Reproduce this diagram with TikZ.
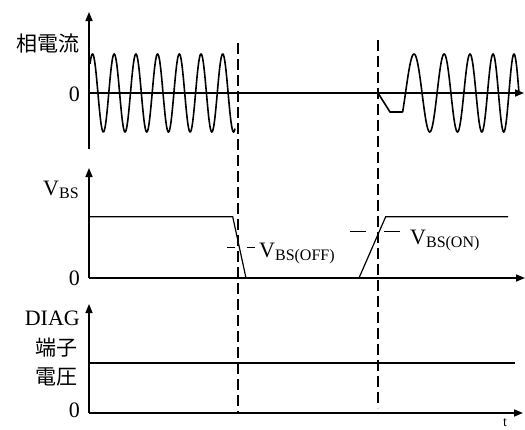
\documentclass[tikz,border=0pt]{standalone}
\usepackage{fontspec}
\setmainfont{Liberation Serif}
\newfontfamily\jpfont{Noto Sans CJK JP}
\usetikzlibrary{arrows.meta}

\newcommand{\vsub}[1]{\raisebox{-3.5pt}{\fontsize{16}{16}\selectfont #1}}

\tikzset{
  axis/.style={line width=1.6pt, -{Triangle[length=9pt,width=7pt]}},
  wave/.style={line width=1.6pt},
  trace/.style={line width=1.2pt},
  marker/.style={line width=1.5pt, dash pattern=on 11pt off 5pt},
  lbl/.style={inner sep=0pt, font=\fontsize{22}{24}\selectfont},
  jlbl/.style={inner sep=0pt, font=\jpfont\fontsize{21}{24}\selectfont},
}

\begin{document}
\begin{tikzpicture}[x=1pt,y=-1pt]
    \useasboundingbox (0,0) rectangle (525,429);

    % Draw the three time axes
    \coordinate (o1) at (89,93);
    \coordinate (o2) at (89,278);
    \coordinate (o3) at (89,413);
    \draw[axis] (89,149) -- (89,12);
    \draw[axis] (o1) -- (524,93);
    \draw[axis] (o2) -- (89,168);
    \draw[axis] (o2) -- (525,278);
    \draw[axis] (o3) -- (89,304);
    \draw[axis] (o3) -- (523,413);

    % Phase current, before turn-off and after turn-on
    \draw[wave] plot[smooth, samples=300, domain=90:235] (\x,{93-39*cos(16.59*(\x-92.5))});
    \draw[wave] (378,93) -- (390,112) -- (402.6,112)
      -- plot[smooth, samples=200, domain=402.6:519] (\x,{93-39*cos(10.893*(\x-414)+0.03507*(\x-414)*(\x-414))});

    % Supply voltage
    \draw[trace] (89,216.7) -- (232.7,216.7) -- (246,278);
    \draw[trace] (359,278) -- (385.7,216.7) -- (508,216.7);

    % Thresholds
    \draw[line width=1.2pt, dash pattern=on 8pt off 11.7pt] (227,247.7) -- (255,247.7);
    \draw[line width=1.2pt, dash pattern=on 16pt off 18pt] (350,231.7) -- (400,231.7);

    % DIAG level
    \draw[trace] (89,363) -- (515,363);

    % Event markers
    \draw[marker] (238,43) -- (238,413);
    \draw[marker] (378,40) -- (378,408);

    % Labels
    \node[jlbl, anchor=east] (iname) at (80,44) {相電流};
    \node[lbl, anchor=east] (zero1) at (80,94) {0};
    \node[lbl, anchor=base west] (vbs) at (43,195) {V\vsub{BS}};
    \node[lbl, anchor=east] (zero2) at (80,278) {0};
    \node[lbl, anchor=base west] (voff) at (259,257) {V\vsub{BS(OFF)}};
    \node[lbl, anchor=base west] (von) at (410,244) {V\vsub{BS(ON)}};
    \node[lbl, anchor=base east] (diag) at (80,325) {DIAG};
    \node[jlbl, anchor=east] (tanshi) at (78,348) {端子};
    \node[jlbl, anchor=east] (denatsu) at (78,376.5) {電圧};
    \node[lbl, anchor=east] (zero3) at (80,410.5) {0};
    \node[inner sep=0pt, anchor=north, font=\fontsize{14}{14}\selectfont] (tlbl) at (505,418) {t};
\end{tikzpicture}
\end{document}
